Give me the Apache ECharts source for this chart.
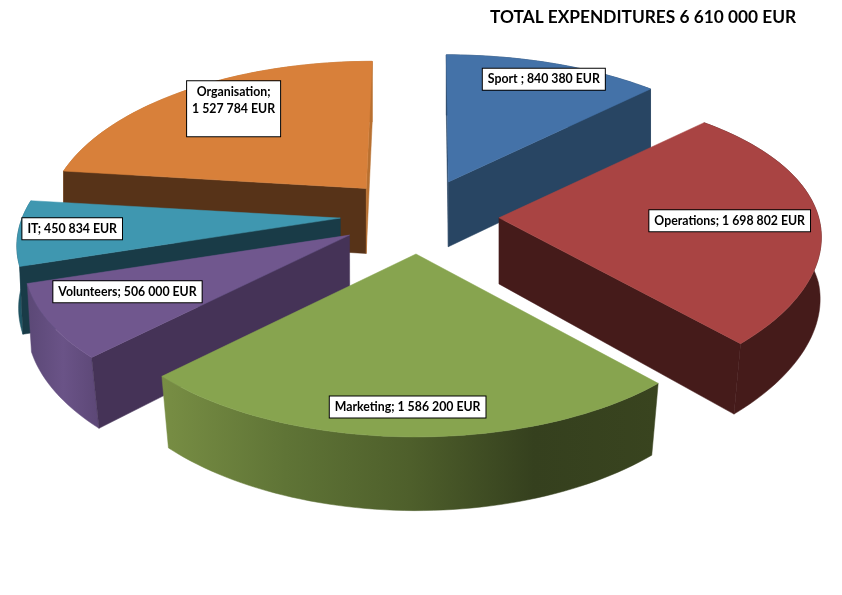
<!DOCTYPE html>
<html>
<head>
<meta charset="utf-8">
<title>Total expenditures</title>
<style>
  html, body { margin: 0; padding: 0; background: #fff; }
  #chart { width: 842px; height: 595px; }
</style>
<script src="https://cdn.jsdelivr.net/npm/echarts@6/dist/echarts.min.js"></script>
</head>
<body>
<div id="chart"></div>
<script>
const categories = ['Sport ;', 'Operations;', 'Marketing;', 'Volunteers;', 'IT;', 'Organisation;'];
const amounts = [840380, 1698802, 1586200, 506000, 450834, 1527784];
const titleText = 'TOTAL EXPENDITURES 6 610 000 EUR';

// colours per slice: top face, cut walls, rim gradient
const topColors = ['#4472a8', '#a94443', '#87a44f', '#70578e', '#3f97b0', '#d8803a'];
const wallColors = ['#284563', '#451b1a', '#3f4a22', '#453357', '#193b47', '#573318'];
const rimStops = [
  ['#284563', '#284563'],
  ['#451b1a', '#451b1a'],
  ['#788e44', '#5f7436', '#4e5f2b', '#35401e', '#39441f'],
  ['#5b4876', '#6a5387', '#5c4776'],
  ['#1b4653', '#2f8196'],
  ['#b87030', '#b87030']
];

// fake 3d projection, tuned by eye against the picture
const CX = 418, CY = 216.5;
const RX = 312, RY = 150;
const PERSP = 0.18;
const EXPLODE = 0.25;
const DEPTH = 66;
const drawOrder = [0, 5, 4, 3, 1, 2];
const widthScale = [1.025, 1.025, 1.01, 1.025, 1.02, 1];
const widthPersp = [1, 0.7, 1, 1, 1, 1];
const angleTurn = [0, -1.5, 0, 0, 0, 0];
const backShear = [-2, 0, 0, 0, 0, 6];
const nudgeX = [0, 3, 0, -2, 0, 0];
const nudgeY = [0, 0, 0, -1, -2, 0];
const labelRadius = [0.855, 0.72, 0.862, 0.74, 0.835, 0.76];
const labelTurn = [1, -0.5, 0, 3, 0.7, 2.2];

const total = amounts.reduce((a, b) => a + b, 0);
const rad = (d) => d * Math.PI / 180;
const fmt = (v) => String(v).replace(/\B(?=(\d{3})+$)/g, ' ');

function apexOf(i, mid) {
  return [
    CX + RX * EXPLODE * Math.sin(rad(mid)) + nudgeX[i],
    CY - RY * EXPLODE * Math.cos(rad(mid)) + nudgeY[i]
  ];
}
function topPoint(i, apex, deg, r) {
  const X = r * Math.sin(rad(deg));
  const Z = r * Math.cos(rad(deg));
  const s = 1 / (1 + PERSP * Z);
  return [
    apex[0] + RX * widthScale[i] * X * Math.pow(s, widthPersp[i]) + backShear[i] * Z,
    apex[1] - RY * Z * s
  ];
}
// point straight below a top face point, the near part of the bottom face is narrower
function below(p) {
  const shrink = 1 - 0.02 * Math.max(0, p[1] - CY) / 125;
  return [CX + (p[0] - CX) * shrink, p[1] + DEPTH + (p[1] - CY) * 0.035];
}

function renderSlice(params) {
  const i = params.dataIndex;
  let start = 0;
  for (let k = 0; k < i; k++) start += amounts[k] / total * 360;
  const end = start + amounts[i] / total * 360;
  const mid = (start + end) / 2;
  const apex = apexOf(i, mid);
  const turn = angleTurn[i];
  const rim = [];
  for (let d = start; d < end; d += 1.5) rim.push(topPoint(i, apex, d + turn, 1));
  rim.push(topPoint(i, apex, end + turn, 1));
  const rimBelow = rim.map(below);
  const z = drawOrder.indexOf(i) * 10;
  const stops = rimStops[i].map((c, k, arr) => ({ offset: k / (arr.length - 1), color: c }));

  const poly = (points, fill, z2) => ({
    type: 'polygon',
    z2: z + z2,
    shape: { points },
    style: { fill, stroke: fill, lineWidth: 0.5 }
  });

  const children = [
    poly(rim.concat(rimBelow.slice().reverse()), new echarts.graphic.LinearGradient(0, 0, 1, 0, stops), 1)
  ];
  // a cut wall only shows when it faces the viewer
  if (Math.sin(rad(start)) <= 0.001) {
    children.push(poly([apex, rim[0], rimBelow[0], below(apex)], wallColors[i], 2));
  }
  if (Math.sin(rad(end)) >= -0.001) {
    const last = rim.length - 1;
    const fill = i === 5 ? '#b87030' : wallColors[i];
    children.push(poly([apex, rim[last], rimBelow[last], below(apex)], fill, 2));
  }
  children.push(poly([apex].concat(rim), topColors[i], 4));

  const at = topPoint(i, apex, mid + labelTurn[i], labelRadius[i]);
  const text = i === 5
    ? categories[i] + '\n' + fmt(amounts[i]) + ' EUR\n '
    : categories[i] + ' ' + fmt(amounts[i]) + ' EUR';
  children.push({
    type: 'text',
    z2: 200,
    style: {
      x: at[0],
      y: at[1],
      text,
      align: 'center',
      verticalAlign: 'middle',
      fontFamily: 'Lato',
      fontWeight: 'bold',
      fontSize: 12.3,
      lineHeight: 17,
      fill: '#000',
      backgroundColor: '#fff',
      borderColor: '#000',
      borderWidth: 1,
      padding: [2, 5, 2, 5]
    }
  });

  return { type: 'group', children };
}

const chart = echarts.init(document.getElementById('chart'));
chart.setOption({
  animation: false,
  backgroundColor: '#fff',
  title: {
    text: titleText,
    left: 485,
    top: 4,
    textStyle: { fontFamily: 'Lato', fontWeight: 'bold', fontSize: 17.3, color: '#000' }
  },
  series: [{
    type: 'custom',
    coordinateSystem: 'none',
    silent: true,
    clip: false,
    data: amounts,
    renderItem: renderSlice
  }]
});
</script>
</body>
</html>
